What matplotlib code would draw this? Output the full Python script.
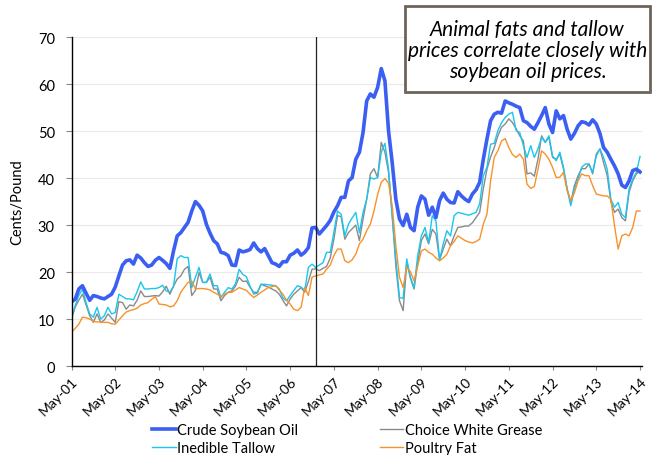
import matplotlib
matplotlib.use("Agg")
import matplotlib.pyplot as plt
from matplotlib.patches import Rectangle

# Monthly prices, cents per pound, May 2001 through May 2014
# (each row = one May-to-April year, last value = May 2014)
SOYBEAN_OIL = [
    13.7, 14.2, 16.4, 17.1, 15.5, 14.0, 15.0, 14.8, 14.5, 14.3, 14.8, 15.3,
    16.8, 19.2, 21.5, 22.4, 22.6, 21.7, 23.6, 23.0, 22.0, 21.2, 21.5, 22.5,
    23.1, 22.5, 21.8, 20.8, 24.5, 27.7, 28.4, 29.5, 30.6, 33.0, 35.0, 34.2,
    33.0, 30.2, 28.3, 26.7, 26.0, 24.2, 24.0, 23.5, 21.5, 21.4, 24.7, 24.3,
    24.5, 24.8, 26.2, 25.0, 24.3, 25.0, 23.5, 22.0, 21.7, 21.2, 22.2, 22.2,
    23.6, 24.0, 24.7, 23.6, 24.2, 25.2, 29.4, 29.5, 28.1, 29.0, 29.9, 31.0,
    32.8, 34.1, 35.9, 35.9, 39.4, 40.1, 44.0, 45.5, 49.7, 56.4, 57.9, 57.2,
    59.3, 63.3, 60.7, 50.0, 43.3, 35.5, 31.3, 29.9, 32.3, 29.5, 28.8, 33.8,
    36.2, 35.5, 32.1, 33.8, 31.6, 35.2, 36.8, 35.5, 34.8, 34.7, 37.1, 36.2,
    35.5, 35.0, 36.6, 37.5, 39.1, 44.0, 48.3, 52.2, 53.6, 54.0, 53.8, 56.4,
    56.0, 55.7, 55.3, 55.0, 52.2, 51.8, 51.0, 50.4, 51.8, 53.3, 55.0, 51.5,
    49.7, 54.3, 52.6, 53.3, 50.4, 48.3, 49.5, 51.1, 52.0, 51.8, 51.3, 52.4,
    51.5, 49.5, 46.5, 45.5, 44.0, 42.6, 40.9, 38.5, 38.0, 39.4, 41.6, 41.9,
    41.3,
]
WHITE_GREASE = [
    10.0, 12.5, 14.0, 15.3, 13.0, 10.7, 9.3, 11.1, 9.3, 9.8, 11.1, 10.2,
    9.3, 13.7, 13.5, 12.1, 13.0, 12.8, 14.0, 16.0, 14.8, 14.8, 14.9, 15.0,
    14.9, 15.8, 17.0, 15.3, 17.0, 18.5, 19.2, 20.6, 21.2, 15.0, 16.1, 19.9,
    17.8, 17.8, 18.9, 16.4, 16.4, 13.9, 15.0, 15.7, 16.0, 17.0, 18.9, 18.0,
    18.1, 16.8, 15.7, 15.7, 17.4, 17.1, 16.8, 16.4, 16.0, 15.3, 14.0, 12.8,
    14.3, 15.3, 16.0, 16.7, 15.7, 18.0, 20.6, 20.7, 20.3, 20.8, 21.2, 23.0,
    27.0, 32.0, 31.8, 27.0, 28.4, 29.2, 30.0, 26.7, 31.3, 35.5, 40.9, 42.0,
    40.1, 47.6, 45.5, 41.2, 32.0, 21.3, 13.9, 11.8, 22.0, 18.7, 16.4, 22.0,
    26.7, 28.1, 26.0, 29.1, 28.1, 22.6, 24.9, 27.0, 25.6, 27.7, 29.5, 29.6,
    29.8, 29.8, 30.5, 31.6, 32.7, 37.7, 41.9, 44.5, 46.5, 49.0, 50.8, 51.5,
    52.6, 51.8, 50.5, 49.0, 47.9, 40.9, 41.1, 40.4, 44.0, 49.0, 47.6, 48.7,
    44.4, 44.0, 45.1, 41.9, 37.7, 34.8, 38.4, 40.5, 42.0, 42.0, 43.0, 40.9,
    45.1, 46.2, 43.3, 40.5, 35.0, 32.7, 33.4, 31.6, 30.9, 37.0, 39.4, 40.9,
    41.6,
]
INEDIBLE_TALLOW = [
    10.4, 12.8, 15.0, 16.4, 13.5, 11.1, 10.4, 12.5, 10.0, 10.7, 12.5, 11.1,
    11.4, 15.3, 14.8, 14.3, 14.3, 14.1, 15.8, 17.9, 16.4, 16.4, 16.5, 16.5,
    16.7, 17.2, 16.0, 15.7, 17.0, 22.8, 23.5, 23.1, 23.1, 16.7, 18.9, 21.0,
    17.8, 17.8, 19.6, 17.1, 17.1, 14.6, 15.7, 16.7, 16.4, 17.5, 20.6, 19.5,
    19.0, 17.0, 15.3, 15.5, 17.4, 17.4, 17.3, 17.2, 17.1, 16.4, 14.5, 13.9,
    15.0, 16.1, 17.1, 16.8, 16.1, 21.0, 21.7, 21.0, 21.5, 22.0, 24.2, 24.2,
    28.5, 33.0, 32.3, 27.7, 30.2, 31.5, 32.7, 28.4, 32.7, 35.5, 40.1, 39.8,
    40.1, 45.5, 47.4, 41.9, 32.0, 22.8, 14.6, 14.4, 22.8, 18.9, 16.7, 23.5,
    27.7, 29.5, 26.3, 32.0, 30.9, 22.6, 26.0, 28.8, 27.7, 32.0, 32.7, 32.5,
    32.3, 32.1, 32.4, 32.7, 34.5, 40.5, 42.3, 47.2, 47.4, 50.1, 51.8, 52.9,
    53.6, 54.0, 50.1, 49.7, 46.9, 44.4, 46.9, 44.4, 46.2, 48.7, 47.6, 49.0,
    44.7, 43.7, 45.5, 42.3, 37.7, 34.1, 37.7, 39.8, 42.3, 43.0, 43.0, 41.2,
    44.7, 46.2, 44.4, 41.9, 35.5, 33.8, 34.8, 32.3, 31.6, 37.7, 39.8, 41.2,
    44.6,
]
POULTRY_FAT = [
    7.2, 8.0, 8.9, 10.4, 10.3, 10.0, 9.5, 9.4, 9.4, 9.3, 9.3, 9.0,
    8.9, 9.8, 10.7, 11.5, 11.8, 12.0, 12.3, 13.0, 13.3, 13.5, 14.2, 14.8,
    13.2, 13.1, 13.0, 12.6, 12.8, 13.9, 15.7, 16.8, 17.8, 18.1, 16.4, 16.5,
    16.5, 16.4, 16.2, 15.7, 15.3, 14.8, 15.3, 15.7, 15.7, 16.2, 16.7, 16.4,
    16.1, 15.3, 14.6, 15.1, 15.7, 16.2, 16.7, 16.9, 17.1, 16.2, 15.3, 14.0,
    13.2, 12.1, 11.8, 12.5, 16.7, 15.0, 18.9, 19.2, 19.4, 19.6, 20.6, 21.5,
    23.5, 24.9, 24.9, 22.4, 22.0, 22.6, 23.8, 26.0, 27.0, 28.8, 30.2, 33.0,
    36.5, 39.1, 39.9, 38.9, 34.1, 25.6, 18.9, 16.7, 21.0, 20.1, 18.1, 21.3,
    24.5, 24.9, 24.2, 23.8, 23.0, 22.4, 23.0, 23.8, 25.6, 26.5, 27.7, 27.2,
    26.7, 26.4, 26.2, 26.5, 27.0, 30.2, 32.3, 39.4, 44.4, 45.8, 47.9, 48.4,
    46.5, 45.0, 44.4, 45.1, 44.0, 38.7, 37.8, 38.2, 41.9, 45.8, 45.1, 44.0,
    42.3, 40.1, 40.2, 41.2, 37.3, 35.2, 36.9, 39.4, 40.9, 40.5, 40.5, 38.4,
    36.6, 36.4, 36.2, 36.2, 35.5, 29.9, 24.9, 27.7, 28.1, 27.7, 29.5, 33.0,
    33.0,
]
YEAR_LABELS = ["May-%02d" % y for y in range(1, 15)]
EVENT_MONTH = 67.1  # vertical marker, Dec-06

months = list(range(len(SOYBEAN_OIL)))

plt.rcParams["font.family"] = ["Lato", "DejaVu Sans"]

fig = plt.figure(figsize=(6.59, 4.56), dpi=100)
ax = fig.add_axes([0.1085, 0.195, 0.866, 0.7215])

ax.plot(months, WHITE_GREASE, color="#8a8a8a", lw=1.0, label="Choice White Grease")
ax.plot(months, INEDIBLE_TALLOW, color="#19c6ef", lw=1.0, label="Inedible Tallow")
ax.plot(months, POULTRY_FAT, color="#f7922a", lw=1.0, label="Poultry Fat")
ax.plot(months, SOYBEAN_OIL, color="#3a5ff2", lw=2.6, label="Crude Soybean Oil",
        solid_joinstyle="round")
ax.axvline(EVENT_MONTH, color="#222222", lw=0.9)

ax.set_xlim(0, 156.6)
ax.set_ylim(0, 70)
ax.set_yticks(range(0, 71, 10))
ax.set_xticks(range(0, 157, 12))
ax.set_xticklabels(YEAR_LABELS, rotation=45, ha="right", rotation_mode="anchor")
ax.tick_params(axis="x", labelsize=10, length=3, color="#888888", pad=3)
ax.tick_params(axis="y", labelsize=10.5, length=4, color="#888888", pad=8)
ax.yaxis.grid(True, color="#e9e9e9", lw=0.8)
ax.set_axisbelow(True)
for side in ("top", "right"):
    ax.spines[side].set_visible(False)
for side in ("left", "bottom"):
    ax.spines[side].set_color("black")
    ax.spines[side].set_linewidth(1.0)
ax.set_ylabel("Cents/Pound", fontsize=10.5, labelpad=10)

# legend: two columns below the plot
h, l = ax.get_legend_handles_labels()
order = [3, 1, 0, 2]
fig.legend([h[i] for i in order], [l[i] for i in order], ncol=2,
           loc="upper center", bbox_to_anchor=(0.527, 0.083), frameon=False,
           fontsize=10.5, handlelength=1.6, handletextpad=0.1,
           columnspacing=5.6, labelspacing=0.25, borderaxespad=0)

# callout box
fig.patches.append(Rectangle((0.614, 0.795), 0.373, 0.19, transform=fig.transFigure,
                             facecolor="white", edgecolor="#6e635b", lw=2.0, zorder=5))
fig.text(0.8005, 0.888, "Animal fats and tallow\nprices correlate closely with\nsoybean oil prices.",
         ha="center", va="center", fontsize=15, style="italic",
         linespacing=1.05, zorder=6)

fig.savefig("out.png", dpi=100)
